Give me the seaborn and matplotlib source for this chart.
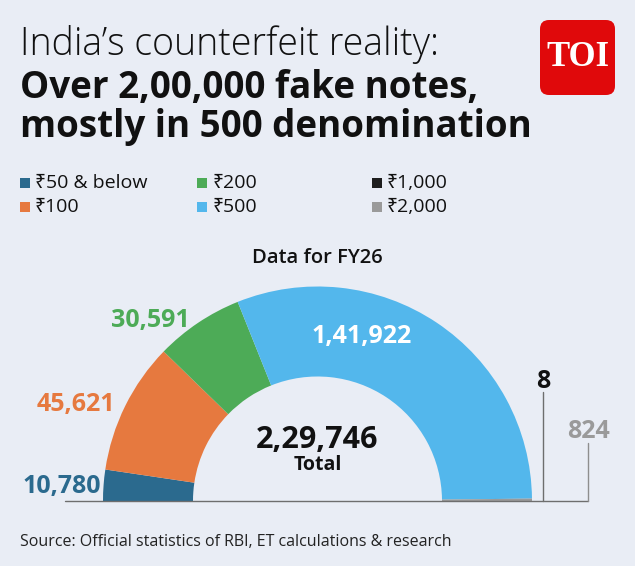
import numpy as np
import matplotlib.pyplot as plt
import seaborn as sns
from matplotlib.patches import FancyBboxPatch

# Données : faux billets détectés, FY26
denominations = ["₹50 & below", "₹100", "₹200", "₹500", "₹1,000", "₹2,000"]
counts = [10780, 45621, 30591, 141922, 8, 824]
colors = ["#2B6A8E", "#E6793F", "#4DAB57", "#53B7EC", "#1E1E1E", "#9A9A9A"]
label_colors = ["#2B6A8E", "#E6793F", "#4DAB57", "#FFFFFF", "#111111", "#9A9A9A"]

bg = "#E9EDF5"
sns.set_theme(style="white")
plt.rcParams["font.family"] = ["Open Sans", "Noto Sans", "DejaVu Sans"]


def indian(n):
    s = str(n)
    if len(s) <= 3:
        return s
    head, tail = s[:-3], s[-3:]
    parts = []
    while len(head) > 2:
        parts.insert(0, head[-2:])
        head = head[:-2]
    if head:
        parts.insert(0, head)
    return ",".join(parts + [tail])


W, H = 635, 566
fig = plt.figure(figsize=(W / 100, H / 100), dpi=100, facecolor=bg)
ax = fig.add_axes([0, 0, 1, 1])
ax.set_facecolor(bg)


def Y(y):
    return H - y


total = sum(counts)
cx, cy, r_out, r_in = 317.5, 501, 214.5, 124.5

# demi-donut : on ajoute une part invisible égale au total
wedges, _ = ax.pie(counts + [total], colors=colors + ["none"], startangle=180,
                   counterclock=False, center=(cx, Y(cy)), radius=r_out,
                   wedgeprops=dict(width=r_out - r_in, linewidth=0), frame=True)

ax.set_xlim(0, W)
ax.set_ylim(0, H)
ax.set_aspect("equal")
ax.axis("off")

# ligne de base et lignes de rappel
ax.plot([65, 588], [Y(501), Y(501)], color="#6E6E6E", lw=1)
ax.plot([543, 543], [Y(392), Y(501)], color="#6E6E6E", lw=1)
ax.plot([588, 588], [Y(443), Y(501)], color="#8E8E8E", lw=1)

# étiquettes des valeurs
label_pos = [(101, 486, "right"), (115, 405, "right"), (190, 320, "right"),
             (362, 337, "center"), (543, 382, "center"), (588, 432, "center")]
for v, c, (x, y, ha) in zip(counts, label_colors, label_pos):
    ax.text(x, Y(y), indian(v), color=c, fontsize=18, fontweight="bold",
            ha=ha, va="center")

ax.text(cx, Y(440), indian(total), color="#111111", fontsize=22,
        fontweight="bold", ha="center", va="center")
ax.text(cx, Y(465), "Total", color="#111111", fontsize=14,
        fontweight="bold", ha="center", va="center")
ax.text(cx, Y(258), "Data for FY26", color="#111111", fontsize=14.5,
        fontweight="semibold", ha="center", va="center")

# titre
ax.text(20, Y(45), "India’s counterfeit reality:", fontsize=27,
        fontweight="light", color="#111111", va="center")
ax.text(20, Y(88), "Over 2,00,000 fake notes,", fontsize=26.5,
        fontweight="bold", color="#111111", va="center")
ax.text(20, Y(127), "mostly in 500 denomination", fontsize=26.5,
        fontweight="bold", color="#111111", va="center")

# logo TOI
ax.add_patch(FancyBboxPatch((540, Y(95)), 75, 75,
                            boxstyle="round,pad=0,rounding_size=9",
                            fc="#E0090B", ec="none"))
ax.text(577.5, Y(58), "TOI", color="white", fontsize=25, fontweight="bold",
        family=["Liberation Serif", "DejaVu Serif"], ha="center", va="center")

# légende
leg_pos = [(20, 183), (20, 207), (197, 183), (197, 207), (372, 183), (372, 207)]
for name, c, (x, y) in zip(denominations, colors, leg_pos):
    ax.add_patch(plt.Rectangle((x, Y(y) - 5), 10, 10, fc=c, ec="none"))
    ax.text(x + 15, Y(y), name, fontsize=14, color="#111111", va="center")

ax.text(20, Y(542), "Source: Official statistics of RBI, ET calculations & research",
        fontsize=11.5, color="#222222", va="center")

fig.savefig("out.png", dpi=100, facecolor=bg)
